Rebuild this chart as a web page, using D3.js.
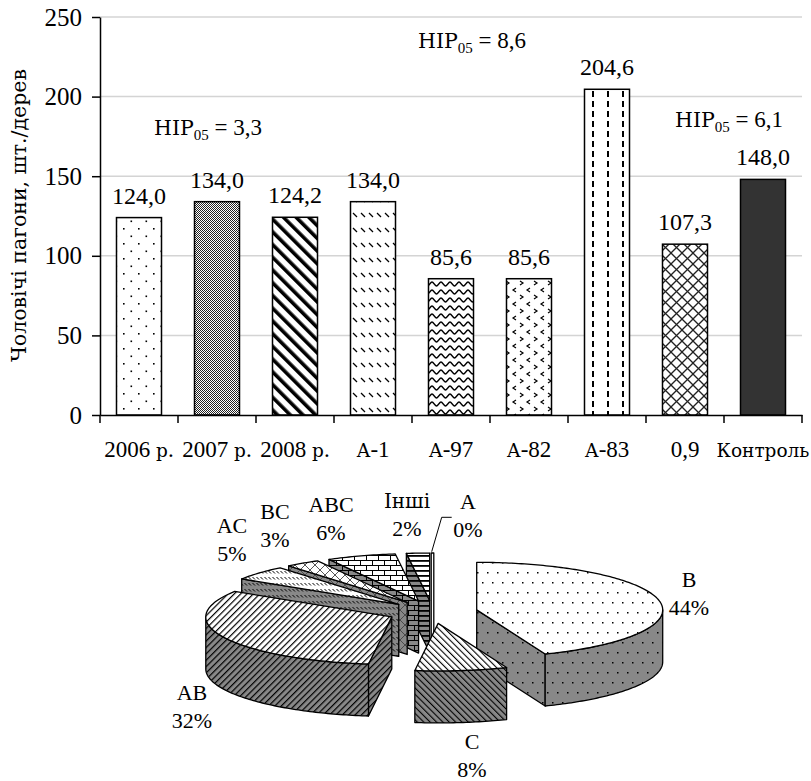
<!DOCTYPE html>
<html><head><meta charset="utf-8">
<script src="https://cdn.jsdelivr.net/npm/d3@7"></script>
<style>
body{margin:0;background:#fff}
svg text{font-family:"Liberation Serif","DejaVu Serif",serif;fill:#000}
svg text.cyr, svg tspan.cyr{font-family:"DejaVu Serif",serif}
</style>
</head><body>
<svg id="c" width="811" height="781"></svg>
<script>
// ---------- data ----------
const categories = ["2006 р.","2007 р.","2008 р.","А-1","А-97","А-82","А-83","0,9","Контроль"];
const values = [124.0,134.0,124.2,134.0,85.6,85.6,204.6,107.3,148.0];
const yTicks = [0,50,100,150,200,250];
const yTitle = "Чоловічі пагони, шт./дерево";
const hirValues = ["3,3","8,6","6,1"];
const pieLabels = ["A","B","C","AB","AC","BC","ABC","Інші"];
const pieValues = [0,44,8,32,5,3,6,2];

// ---------- styles / layout ----------
const barFills = ["url(#p0)","url(#p1)","url(#p2)","url(#p3)","url(#p4)","url(#p5)","url(#p6)","url(#p7)","#333333"];
const pieTopFills = ["#fff","url(#pBt)","url(#pCt)","url(#pABt)","url(#pACt)","url(#pBCt)","url(#pABCt)","url(#pOt)"];
const pieSideFills = ["#fff","url(#pBs)","url(#pCs)","url(#pABs)","url(#pACs)","url(#pBCs)","url(#pABCs)","url(#pOs)"];
const hirPos = [[154,135],[418,48],[675,127]];
const pieLabelPos = [[468,509],[689,587],[472,749],[192,700],[232,533],[275,519],[331,512],[407,508]];

const svg = d3.select("#c");
const defs = svg.append("defs");
const CYR = /[\u0400-\u04FF]/;
// Cyrillic runs are drawn in DejaVu Serif (slightly smaller, to match Times proportions)
function richText(sel, str, size, cyrSize){
  (str.match(/[\u0400-\u04FF]+|[^\u0400-\u04FF]+/g) || []).forEach(r=>{
    const t = sel.append("tspan").attr("font-size", CYR.test(r)?cyrSize:size).text(r);
    if (CYR.test(r)) t.attr("class","cyr");
  });
}

function pat(id, w, h, bg, draw, transform){
  const p = defs.append("pattern").attr("id",id).attr("patternUnits","userSpaceOnUse")
    .attr("width",w).attr("height",h);
  if (transform) p.attr("patternTransform",transform);
  p.append("rect").attr("width",w).attr("height",h).attr("fill",bg);
  draw(p);
}
const R_ = (p,x,y,w,h,c)=>p.append("rect").attr("x",x).attr("y",y).attr("width",w).attr("height",h).attr("fill",c||"#000");
const L_ = (p,x1,y1,x2,y2,sw,c)=>p.append("line").attr("x1",x1).attr("y1",y1).attr("x2",x2).attr("y2",y2).attr("stroke",c||"#000").attr("stroke-width",sw);
const PATH_ = (p,d,sw,c)=>p.append("path").attr("d",d).attr("fill","none").attr("stroke",c||"#000").attr("stroke-width",sw);

// bar patterns
pat("p0",15,15,"#fff",p=>{R_(p,3,3,1.6,1.6);R_(p,10.5,10.5,1.6,1.6);});
pat("p1",2,2,"#fff",p=>{R_(p,0,0,1,1,"#222");R_(p,1,1,1,1,"#222");});
pat("p2",9,9,"#fff",p=>{R_(p,0,0,3.6,9);},"rotate(-45)");
pat("p3",8,15,"#fff",p=>{L_(p,1,3,5,7,1.3);});
pat("p4",9,8,"#fff",p=>{PATH_(p,"M0,2 C1.5,2 3,6 4.5,6 C6,6 7.5,2 9,2",1.3);});
pat("p5",14,14,"#fff",p=>{PATH_(p,"M2,1 L5,3 L2,5",1.2);PATH_(p,"M12,8 L9,10 L12,12",1.2);});
pat("p6",15,10,"#fff",p=>{R_(p,7,1,2,6);});
pat("p7",11,11,"#fff",p=>{L_(p,0,0,11,11,1.3,"#222");L_(p,11,0,0,11,1.3,"#222");});

function piePat(base, w, h, draw, tr){
  pat(base+"t",w,h,"#fff",draw,tr);
  pat(base+"s",w,h,"#888",draw,tr);
}
piePat("pB",10,20,p=>{R_(p,2,2,1.5,1.5);R_(p,7,12,1.5,1.5);});
piePat("pC",4.5,4.5,p=>{R_(p,0,0,1.1,4.5);},"rotate(-45)");
piePat("pAB",4.5,4.5,p=>{R_(p,0,0,1.2,4.5);},"rotate(45)");
piePat("pAC",4,6,p=>{L_(p,0.5,1,3,3.5,1);});
piePat("pBC",10,10,p=>{L_(p,0,0,10,10,0.9,"#444");L_(p,10,0,0,10,0.9,"#444");});
piePat("pABC",12,10,p=>{L_(p,0,0.5,12,0.5,1);L_(p,0,5.5,12,5.5,1);L_(p,0.5,0,0.5,5,1);L_(p,6.5,5,6.5,10,1);});
piePat("pO",5,5,p=>{R_(p,0,0,5,1.8);});

// ---------- bar chart ----------
const x = d3.scaleBand().domain(categories).range([100,802]).paddingInner(0.423).paddingOuter(0.2115);
const y = d3.scaleLinear().domain([0,250]).range([415,17]);

svg.append("g").selectAll("line").data(yTicks.filter(t=>t>0)).join("line")
  .attr("x1",100).attr("x2",802).attr("y1",d=>y(d)).attr("y2",d=>y(d))
  .attr("stroke","#d4d4d4").attr("stroke-width",1.5);

svg.append("g").selectAll("rect").data(values).join("rect")
  .attr("x",(d,i)=>x(categories[i])).attr("y",d=>y(d))
  .attr("width",x.bandwidth()).attr("height",d=>y(0)-y(d))
  .attr("fill",(d,i)=>barFills[i]).attr("stroke","#000").attr("stroke-width",1.5);

svg.append("g").selectAll("text").data(values).join("text")
  .attr("x",(d,i)=>x(categories[i])+x.bandwidth()/2).attr("y",d=>y(d)-14)
  .attr("text-anchor","middle").attr("font-size",24)
  .text(d=>d.toFixed(1).replace(".",","));

const gy = svg.append("g").attr("transform","translate(100,0)")
  .call(d3.axisLeft(y).tickValues(yTicks).tickSize(8).tickSizeOuter(0).tickPadding(10));
gy.attr("font-family",null);
gy.selectAll("text").attr("font-size",25);
gy.selectAll("line,path").attr("stroke","#000").attr("stroke-width",1.5);

const gx = svg.append("g").attr("transform","translate(0,415)")
  .call(d3.axisBottom(x).tickSize(0).tickSizeOuter(0));
gx.attr("font-family",null);
gx.select(".domain").attr("stroke","#000").attr("stroke-width",1.5);
gx.selectAll("text").attr("font-size",23).attr("y",42).attr("dy",0)
  .each(function(d){ const t = d3.select(this); t.text(null); richText(t, d, 23, 18.5); });
const bounds = categories.map(c=>x(c)-x.step()*x.paddingInner()/2).concat([x.range()[1]]);
gx.selectAll("line.b").data(bounds).join("line").attr("class","b")
  .attr("x1",d=>d).attr("x2",d=>d).attr("y1",0).attr("y2",8)
  .attr("stroke","#000").attr("stroke-width",1.5);

defs.append("clipPath").attr("id","titleClip").append("rect")
  .attr("x",0).attr("y",69).attr("width",60).attr("height",320);
svg.append("g").attr("clip-path","url(#titleClip)")
  .append("text").attr("class","cyr").attr("transform","translate(26,362) rotate(-90)")
  .attr("text-anchor","start").attr("font-size",20.5).text(yTitle);

hirValues.forEach((v,i)=>{
  const t = svg.append("text").attr("x",hirPos[i][0]).attr("y",hirPos[i][1]).attr("font-size",23);
  t.append("tspan").attr("class","cyr").attr("font-size",20.5).text("НІР");
  t.append("tspan").attr("font-size",15).attr("dy",5).text("05");
  t.append("tspan").attr("dy",-5).text(" = "+v);
});

// ---------- 3D exploded pie ----------
const PC = {cx:432.5, cy:612, R:186, k:0.2554, depth:52, explode:45};
const pie = d3.pie().sort(null).value(d=>d).startAngle(0).endAngle(2*Math.PI);
const arcs = pie(pieValues);
const P = (ax,ay,th,dz)=>[ax+PC.R*Math.sin(th), ay-PC.R*PC.k*Math.cos(th)+(dz||0)];
function arcPts(ax,ay,a0,a1,dz){
  const n = Math.max(2,Math.ceil(Math.abs(a1-a0)/(Math.PI/180)));
  return d3.range(n+1).map(i=>P(ax,ay,a0+(a1-a0)*i/n,dz));
}
const lg = d3.line();
const gp = svg.append("g").attr("stroke","#000").attr("stroke-width",1.3).attr("stroke-linejoin","round");

const slices = arcs.map((a,i)=>{
  const mid = (a.startAngle+a.endAngle)/2;
  return {i, a0:a.startAngle, a1:a.endAngle, mid,
    ax: PC.cx+PC.explode*Math.sin(mid), ay: PC.cy-PC.explode*PC.k*Math.cos(mid)};
});
slices.slice().sort((p,q)=>Math.cos(q.mid)-Math.cos(p.mid)).forEach(s=>{
  const {i,a0,a1,ax,ay} = s;
  const D = PC.depth;
  if (a1-a0 < 1e-6){
    const top = P(ax,ay,a0);
    gp.append("path").attr("fill","#fff")
      .attr("d",lg([[top[0]-1.3,top[1]],[top[0]+1.3,top[1]],[ax+1.3,ay+D],[ax-1.3,ay+D]])+"Z");
    return;
  }
  const face = th=>{
    const e = P(ax,ay,th);
    gp.append("path").attr("fill",pieSideFills[i])
      .attr("d",lg([[ax,ay],e,[e[0],e[1]+D],[ax,ay+D]])+"Z");
  };
  if (Math.sin(a0) < -1e-6) face(a0);
  if (Math.sin(a1) > 1e-6) face(a1);
  const lo = Math.max(a0,Math.PI/2), hi = Math.min(a1,3*Math.PI/2);
  if (hi>lo){
    const topPts = arcPts(ax,ay,lo,hi,0);
    const botPts = arcPts(ax,ay,hi,lo,D);
    gp.append("path").attr("fill",pieSideFills[i]).attr("d",lg(topPts.concat(botPts))+"Z");
  }
  gp.append("path").attr("fill",pieTopFills[i])
    .attr("d",lg([[ax,ay]].concat(arcPts(ax,ay,a0,a1,0)))+"Z");
});

svg.append("path").attr("d","M431.7,551.7 L441.7,517.3 L451.7,517.3")
  .attr("fill","none").attr("stroke","#000").attr("stroke-width",1);

pieLabels.forEach((lab,i)=>{
  const [lx,ly] = pieLabelPos[i];
  const t = svg.append("text").attr("x",lx).attr("y",ly).attr("text-anchor","middle").attr("font-size",22);
  richText(t, lab, 22, 20);
  svg.append("text").attr("x",lx).attr("y",ly+28).attr("text-anchor","middle").attr("font-size",22).text(pieValues[i]+"%");
});
</script>
</body></html>
